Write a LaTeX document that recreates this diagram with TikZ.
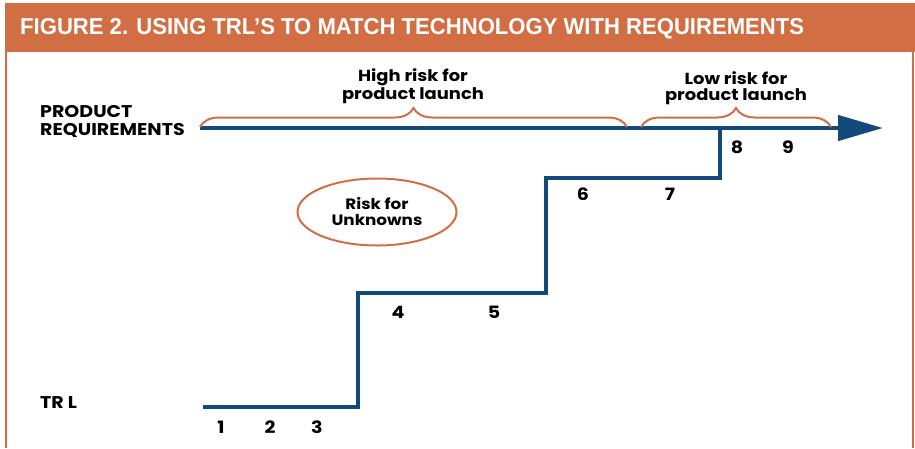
\documentclass[tikz,border=0pt]{standalone}
\usepackage{fontspec}
\setmainfont{Poppins}[FakeStretch=1.12]
\newfontfamily\headfont{Liberation Sans}[FakeStretch=0.96]
\usetikzlibrary{arrows.meta,decorations.pathreplacing,shapes.geometric}
\definecolor{trlorange}{HTML}{D26E43}
\definecolor{trlblue}{HTML}{134A7C}
\tikzset{
	lbl/.style={font=\bfseries\fontsize{17}{18}\selectfont, inner sep=0pt},
	num/.style={font=\bfseries\fontsize{17}{17}\selectfont, inner sep=0pt, anchor=base},
	risktext/.style={font=\bfseries\fontsize{16}{16}\selectfont, inner sep=0pt, align=center, anchor=base},
	brc/.style={decorate, decoration={brace,amplitude=19pt}, trlorange, line width=2pt},
	trlline/.style={trlblue, line width=4.5pt}
}

\begin{document}
\begin{tikzpicture}[x=1pt,y=-1pt]
		\useasboundingbox (0,0) rectangle (915,448);
		\fill[trlorange] (5,3) rectangle (915,52);
		\draw[trlorange,line width=2pt] (6,52) -- (6,448);
		\draw[trlorange,line width=2pt] (913,52) -- (913,448);
		\node[anchor=base west, inner sep=0pt, text=white, font=\headfont\bfseries\fontsize{23}{23}\selectfont] (title) at (20,34) {FIGURE 2. USING TRL’S TO MATCH TECHNOLOGY WITH REQUIREMENTS};
		
		\node[lbl, anchor=base west, align=left] (preq) at (40,135) {PRODUCT\\REQUIREMENTS};
		\node[lbl, anchor=base west] (trl) at (40,408) {TR L};
		
		\coordinate (start) at (200,128);
		\coordinate (tip) at (883,128);
		\draw[trlline, -{Triangle[length=45pt,width=25pt]}] (start) -- (tip);
		
		\coordinate (s0) at (203,407);
		\coordinate (s1) at (358,407);
		\coordinate (s2) at (358,293);
		\coordinate (s3) at (546,293);
		\coordinate (s4) at (546,178);
		\coordinate (s5) at (720,178);
		\coordinate (s6) at (720,128);
		\draw[trlline] (s0) -- (s1) -- (s2) -- (s3) -- (s4) -- (s5) -- (s6);
		
		\draw[brc] (200,127) -- (627,127);
		\draw[brc] (641,127) -- (831,127);
		\node[risktext] (high) at (413,99) {High risk for\\product launch};
		\node[risktext] (low) at (736,100) {Low risk for\\product launch};
		
		\node[draw=trlorange, line width=2pt, ellipse, minimum width=159pt, minimum height=67pt, align=center, inner sep=0pt, font=\bfseries\fontsize{15}{16}\selectfont] (unknown) at (377,212) {Risk for\\Unknowns};
		
		\node[num] (n1) at (221,433) {1};
		\node[num] (n2) at (270,433) {2};
		\node[num] (n3) at (317,433) {3};
		\node[num] (n4) at (398,318) {4};
		\node[num] (n5) at (494,318) {5};
		\node[num] (n6) at (583,200) {6};
		\node[num] (n7) at (670,200) {7};
		\node[num] (n8) at (737,153) {8};
		\node[num] (n9) at (788,153) {9};
	\end{tikzpicture}
\end{document}
